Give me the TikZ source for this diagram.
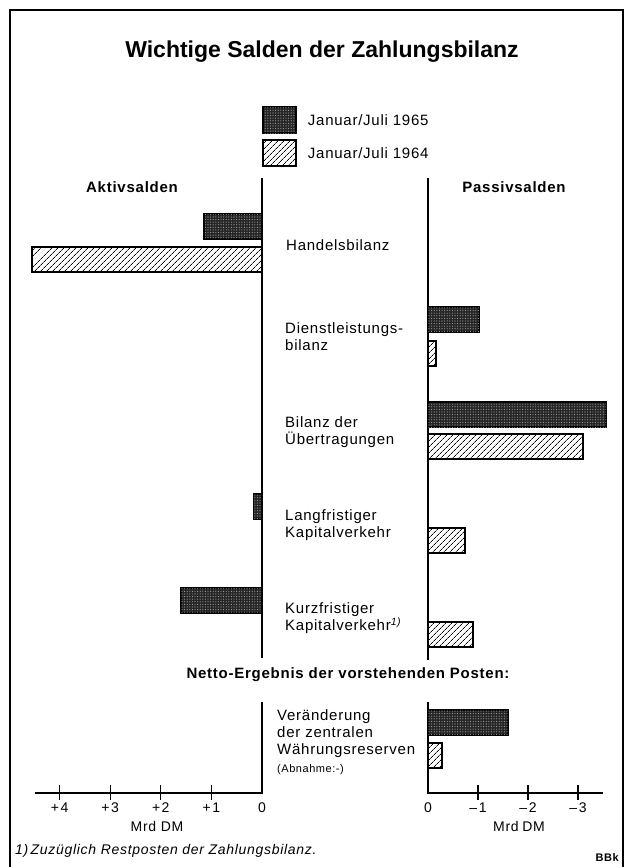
\documentclass[tikz,border=0pt]{standalone}
\usepackage{fontspec}
\setmainfont{Liberation Sans}
\newfontfamily\labfont[LetterSpace=5]{Liberation Sans}
\usetikzlibrary{patterns.meta}
\usetikzlibrary{positioning}
\tikzset{
frame/.style={line width=1.8pt},
axis/.style={line width=1.3pt},
bar65/.style={
  draw, line width=1.5pt, fill=black!85,
  postaction={pattern={Dots[distance=2.6pt,radius=0.55pt]}, pattern color=black!35}
},
bar64/.style={
  draw, line width=1.5pt, fill=white,
  postaction={pattern={Lines[angle=45,distance=4pt,line width=0.7pt]}}
},
lab/.style={font=\labfont\fontsize{15}{17}\selectfont, align=left, anchor=west, inner sep=0pt},
head/.style={font=\labfont\bfseries\fontsize{15}{17}\selectfont, inner sep=0pt},
ticklab/.style={font=\labfont\fontsize{14}{16}\selectfont, inner sep=0pt},
}

\begin{document}
\begin{tikzpicture}[x=1pt,y=-1pt]
\useasboundingbox (0,0) rectangle (625,867);
\draw[frame] (10,10) rectangle (623,890);

% title and legend
\node[font=\bfseries\fontsize{23}{26}\selectfont] (title) at (322,52) {Wichtige Salden der Zahlungsbilanz};
\node[bar65, minimum width=33pt, minimum height=26pt, inner sep=0pt] (key65) at (279.5,120) {};
\node[bar64, minimum width=33pt, minimum height=26pt, inner sep=0pt] (key64) at (279.5,153) {};
\node[lab, right=11pt of key65] (leg65) {Januar/Juli 1965};
\node[lab, right=11pt of key64] (leg64) {Januar/Juli 1964};
\node[head] (aktiv) at (132,187) {Aktivsalden};
\node[head] (passiv) at (514,187) {Passivsalden};

% the axes
\coordinate (l0) at (262,793);
\coordinate (r0) at (428,793);
\draw[axis] (262,178) -- (262,658);
\draw[axis] (428,178) -- (428,660);
\draw[axis] (262,702) -- (l0) -- (35,793);
\draw[axis] (428,702) -- (r0) -- (603,793);
\foreach \i in {1,...,4}
{
  \draw[axis] ([xshift=-\i*50.6pt]l0) ++(0,-8) -- ++(0,15);
  \node[ticklab] (lt\i) at ([xshift=-\i*50.6pt]l0 |- 0,808) {+\kern1.5pt\i};
}
\foreach \i in {1,...,3}
{
  \draw[axis] ([xshift=\i*50pt]r0) ++(0,-8) -- ++(0,15);
  \node[ticklab] (rt\i) at ([xshift=\i*50pt]r0 |- 0,808) {–\kern1.5pt\i};
}
\node[ticklab] (lt0) at (262,808) {0};
\node[ticklab] (rt0) at (428,808) {0};
\node[ticklab] (mrdl) at (157,826) {Mrd DM};
\node[ticklab] (mrdr) at (519,826) {Mrd\kern-1pt\ DM};

% the bars
\foreach \yt/\v/\kind in {214/1.15/bar65, 247/4.55/bar64, 494/0.17/bar65, 588/1.6/bar65}
  \draw[\kind] (262-\v*50.6,\yt) rectangle (262,\yt+25);
\foreach \yt/\v/\kind in {307/1.02/bar65, 341/0.16/bar64, 402/3.56/bar65, 434/3.1/bar64,
                          528/0.74/bar64, 622/0.9/bar64, 710/1.6/bar65, 743/0.28/bar64}
  \draw[\kind] (428,\yt) rectangle (428+\v*50,\yt+25);

% the labels
\node[lab] (handel) at (286,245) {Handelsbilanz};
\node[lab] (dienst) at (285,337) {Dienstleistungs-\\bilanz};
\node[lab] (uebertr) at (285,432) {Bilanz der\\Übertragungen};
\node[lab] (lang) at (285,525) {Langfristiger\\Kapitalverkehr};
\node[lab] (kurz) at (285,618) {Kurzfristiger\\Kapitalverkehr\textsuperscript{\itshape 1)}};
\node[head] (netto) at (348,675) {Netto-Ergebnis der vorstehenden Posten:};
\node[lab] (reserve) at (277,734) {Veränderung\\der zentralen\\Währungsreserven};
\node[lab, font=\labfont\fontsize{11}{13}\selectfont] (abnahme) at (277,770) {(Abnahme:-)};

% footnote
\node[lab, font=\labfont\itshape\fontsize{14}{16}\selectfont] (fn) at (15,851) {1)\,Zuzüglich Restposten der Zahlungsbilanz.};
\node[font=\labfont\bfseries\fontsize{11}{13}\selectfont, anchor=east, inner sep=0pt] (bbk) at (619,858) {BBk};
\end{tikzpicture}
\end{document}
